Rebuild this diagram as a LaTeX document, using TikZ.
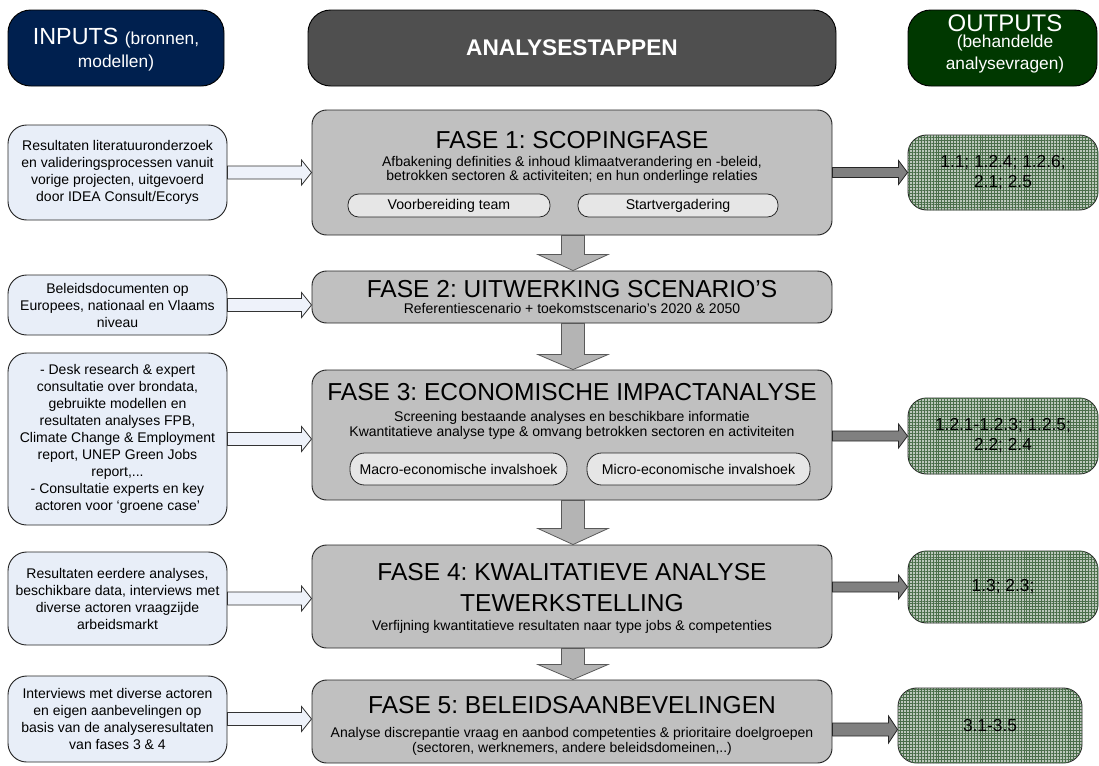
\documentclass[tikz,border=0pt]{standalone}
\usepackage{fontspec}
\setmainfont{Liberation Sans}
\usetikzlibrary{calc,patterns.meta}
\definecolor{navy}{HTML}{00204F}
\definecolor{midgray}{HTML}{4F4F4F}
\definecolor{dkgreen}{HTML}{003800}
\definecolor{inblue}{HTML}{E8EEF8}
\definecolor{phgray}{HTML}{C0C0C0}
\definecolor{pillgray}{HTML}{E6E6E6}
\definecolor{arrowblue}{HTML}{EEF2FA}
\definecolor{arrowgray}{HTML}{808080}
\definecolor{downgray}{HTML}{B4B4B4}
\definecolor{outgreen}{HTML}{BCC8BC}
\definecolor{gridgreen}{HTML}{4A6E4A}
\newcommand\hblockarr[6]{\path[#1] ($(#2)+(0,#4)$) -- ($(#3)+(-#6,#4)$) -- ($(#3)+(-#6,#5)$) -- (#3) -- ($(#3)+(-#6,-#5)$) -- ($(#3)+(-#6,-#4)$) -- ($(#2)+(0,-#4)$) -- cycle;}
\newcommand\vblockarr[6]{\path[#1] ($(#2)+(#4,0)$) -- ($(#3)+(#4,-#6)$) -- ($(#3)+(#5,-#6)$) -- (#3) -- ($(#3)+(-#5,-#6)$) -- ($(#3)+(-#4,-#6)$) -- ($(#2)+(-#4,0)$) -- cycle;}
\tikzset{
  wh/.style 2 args={minimum width=#1*0.75pt, minimum height=#2*0.75pt, inner sep=0pt},
  hdr/.style={draw=black, line width=0.7pt, rounded corners=17pt, text=white, align=center},
  hdrtxt/.style={text=white, inner sep=0pt, align=center},
  inbox/.style={draw=black!85, line width=0.7pt, fill=inblue, rounded corners=14pt, align=center, font=\fontsize{10.5}{12.75}\selectfont},
  phase/.style={draw=black!85, line width=0.7pt, fill=phgray, rounded corners=11pt},
  pill/.style={draw=black!85, line width=0.6pt, fill=pillgray, rounded corners=8pt, font=\fontsize{10.6}{12}\selectfont},
  outbox/.style={draw=black!85, line width=0.7pt, fill=outgreen, rounded corners=14pt, align=center, font=\fontsize{13}{15}\selectfont,
    postaction={pattern={Lines[angle=0,distance=2.2pt,line width=0.35pt]}, pattern color=gridgreen},
    postaction={pattern={Lines[angle=90,distance=2.2pt,line width=0.35pt]}, pattern color=gridgreen}},
  ptitle/.style={font=\fontsize{18.4}{23.25}\selectfont, align=center, inner sep=0pt},
  psub/.style={font=\fontsize{10.5}{11}\selectfont, align=center, inner sep=0pt},
  inarrow/.style={draw=black!80, line width=0.6pt, fill=arrowblue},
  outarrow/.style={draw=black!85, line width=0.6pt, fill=arrowgray},
  downarrow/.style={draw=black!65, line width=0.6pt, fill=downgray},
}
\frenchspacing
\begin{document}
\begin{tikzpicture}[x=0.75pt,y=-0.75pt]
\useasboundingbox (0,0) rectangle (1099,765);
% headers
\node[hdr, fill=navy, wh={216}{76}] (hin) at (116,48) {};
\node[hdrtxt] (hin1) at (116,38) {\fontsize{17.5}{20}\selectfont INPUTS \fontsize{13}{15}\selectfont(bronnen,};
\node[hdrtxt] (hin2) at (116,63) {\fontsize{13}{15}\selectfont modellen)};
\node[hdr, fill=midgray, wh={528}{76}] (hmid) at (572,48) {};
\node[hdrtxt, font=\fontsize{17}{20}\selectfont\bfseries] (hmidt) at (572,48) {ANALYSESTAPPEN};
\node[hdr, fill=dkgreen, wh={189}{76}] (hout) at (1002.5,48) {};
\node[hdrtxt, font=\fontsize{18}{20}\selectfont] (hout1) at (1005,23) {OUTPUTS};
\node[hdrtxt, font=\fontsize{13}{16}\selectfont] (hout2) at (1005,54) {(behandelde\\analysevragen)};
% input boxes
\node[inbox, wh={219}{95}] (in1) at (117.5,172.5) {Resultaten literatuuronderzoek\\en valideringsprocessen vanuit\\vorige projecten, uitgevoerd\\door IDEA Consult/Ecorys};
\node[inbox, wh={219}{60}] (in2) at (117.5,305) {Beleidsdocumenten op\\Europees, nationaal en Vlaams\\niveau};
\node[inbox, wh={219}{172}] (in3) at (117.5,439) {- Desk research \& expert\\consultatie over brondata,\\gebruikte modellen en\\resultaten analyses FPB,\\Climate Change \& Employment\\report, UNEP Green Jobs\\report,...\\- Consultatie experts en key\\actoren voor ‘groene case’};
\node[inbox, wh={219}{93}] (in4) at (117.5,598.5) {Resultaten eerdere analyses,\\beschikbare data, interviews met\\diverse actoren vraagzijde\\arbeidsmarkt};
\node[inbox, wh={219}{86}] (in5) at (117.5,719) {Interviews met diverse actoren\\en eigen aanbevelingen op\\basis van de analyseresultaten\\van fases 3 \& 4};
% phase boxes
\node[phase, wh={520}{125}] (p1) at (572,172.5) {};
\node[phase, wh={520}{52}] (p2) at (572,297) {};
\node[phase, wh={520}{130}] (p3) at (572,435) {};
\node[phase, wh={520}{103}] (p4) at (572,596.5) {};
\node[phase, wh={520}{83}] (p5) at (572,721.5) {};
% phase texts
\node[ptitle] (p1t) at (572,140) {FASE 1: SCOPINGFASE};
\node[psub] (p1s) at (572,170) {Afbakening definities \& inhoud klimaatverandering en -beleid,\\betrokken sectoren \& activiteiten; en hun onderlinge relaties};
\node[pill, wh={202}{23}] (p1a) at (449,205.5) {Voorbereiding team};
\node[pill, wh={200}{23}] (p1b) at (678,205.5) {Startvergadering};
\node[ptitle] (p2t) at (572,289) {FASE 2: UITWERKING SCENARIO'S};
\node[psub] (p2s) at (572,308.5) {Referentiescenario + toekomstscenario's 2020 \& 2050};
\node[ptitle] (p3t) at (572,392) {FASE 3: ECONOMISCHE IMPACTANALYSE};
\node[psub] (p3s) at (572,425.5) {Screening bestaande analyses en beschikbare informatie\\Kwantitatieve analyse type \& omvang betrokken sectoren en activiteiten};
\node[pill, wh={217}{32}, rounded corners=11pt] (p3a) at (458.5,469) {Macro-economische invalshoek};
\node[pill, wh={223}{32}, rounded corners=11pt] (p3b) at (698.5,469) {Micro-economische invalshoek};
\node[ptitle] (p4t) at (572,587.5) {FASE 4: KWALITATIEVE ANALYSE\\TEWERKSTELLING};
\node[psub] (p4s) at (572,627) {Verfijning kwantitatieve resultaten naar type jobs \& competenties};
\node[ptitle] (p5t) at (572,705) {FASE 5: BELEIDSAANBEVELINGEN};
\node[psub] (p5s) at (572,741.5) {Analyse discrepantie vraag en aanbod competenties \& prioritaire doelgroepen\\(sectoren, werknemers, andere beleidsdomeinen,..)};
% output boxes
\node[outbox, wh={190}{75}] (o1) at (1003,172.5) {1.1; 1.2.4; 1.2.6;\\2.1; 2.5};
\node[outbox, wh={190}{76}] (o2) at (1003,436) {1.2.1-1.2.3; 1.2.5;\\2.2; 2.4};
\node[outbox, wh={190}{72}] (o3) at (1003,587) {1.3; 2.3;};
\node[outbox, wh={184}{75}] (o4) at (990,725.5) {3.1-3.5};
% input arrows
\coordinate (i1e) at (p1.west |- in1.east);
\coordinate (i2e) at (p2.west |- in2.east);
\coordinate (i3e) at (p3.west |- in3.east);
\coordinate (i4e) at (p4.west |- in4.east);
\coordinate (i5e) at (p5.west |- in5.east);
\hblockarr{inarrow}{in1.east}{i1e}{6.5}{12.5}{10}
\hblockarr{inarrow}{in2.east}{i2e}{6.5}{12.5}{10}
\hblockarr{inarrow}{in3.east}{i3e}{6.5}{12.5}{10}
\hblockarr{inarrow}{in4.east}{i4e}{6.5}{12.5}{10}
\hblockarr{inarrow}{in5.east}{i5e}{6.5}{12.5}{10}
% output arrows
\coordinate (o1s) at (p1.east |- o1.west);
\coordinate (o2s) at (p3.east |- o2.west);
\coordinate (o3s) at (p4.east |- o3.west);
\coordinate (o4e) at ($(o4.west)+(0,4)$);
\coordinate (o4s) at (p5.east |- o4e);
\hblockarr{outarrow}{o1s}{o1.west}{5}{12}{9}
\hblockarr{outarrow}{o2s}{o2.west}{5}{12}{9}
\hblockarr{outarrow}{o3s}{o3.west}{5}{12}{9}
\hblockarr{outarrow}{o4s}{o4e}{6.5}{13.5}{9}
% down arrows
\coordinate (d1s) at ($(p1.south)+(1,0)$);
\coordinate (d1e) at ($(p2.north)+(1,0)$);
\coordinate (d2s) at ($(p2.south)+(1,0)$);
\coordinate (d2e) at ($(p3.north)+(1,0)$);
\coordinate (d3s) at ($(p3.south)+(1,0)$);
\coordinate (d3e) at ($(p4.north)+(1,0)$);
\coordinate (d4s) at ($(p4.south)+(1,0)$);
\coordinate (d4e) at ($(p5.north)+(1,0)$);
\vblockarr{downarrow}{d1s}{d1e}{11.5}{35}{16}
\vblockarr{downarrow}{d2s}{d2e}{11.5}{35}{15}
\vblockarr{downarrow}{d3s}{d3e}{11.5}{35}{16}
\vblockarr{downarrow}{d4s}{d4e}{11.5}{35}{15}
\end{tikzpicture}
\end{document}
